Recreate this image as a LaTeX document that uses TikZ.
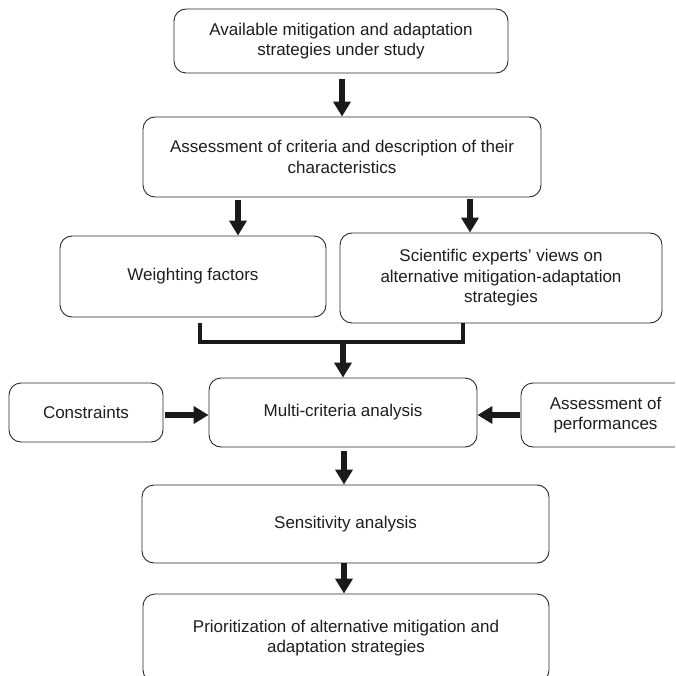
\documentclass[tikz,border=0pt]{standalone}
\usepackage{fontspec}
\setmainfont{Liberation Sans}
\usetikzlibrary{arrows.meta}
\definecolor{boxline}{HTML}{2A2A2A}
\definecolor{txt}{HTML}{1E1E1E}
\definecolor{arr}{HTML}{1A1A1A}
\tikzset{
  box/.style={draw=boxline, line width=0.9pt, rounded corners=12pt, align=center,
    inner sep=0pt, text=txt, font=\fontsize{17}{20.5}\selectfont},
  bigarrow/.style={draw=arr, line width=5.5pt, -{Triangle[width=17pt,length=15pt]}},
  bracket/.style={draw=arr, line width=3.3pt, line join=miter, line cap=butt}
}
\begin{document}
\begin{tikzpicture}[x=1pt,y=-1pt]
\useasboundingbox (0,0) rectangle (675,676);
\clip (0,0) rectangle (675,676);
\fill[white] (0,0) rectangle (675,676);

\node[box, minimum width=334pt, minimum height=64pt] (b1) at (341,41)
  {Available mitigation and adaptation\\strategies under study};
\node[box, minimum width=398pt, minimum height=80pt] (b2) at (342,157)
  {Assessment of criteria and description of their\\characteristics};
\node[box, minimum width=266pt, minimum height=81pt] (b3) at (193,276.5)
  {\raisebox{3pt}{Weighting factors}};
\node[box, minimum width=322pt, minimum height=90pt] (b4) at (501,278)
  {Scientific experts’ views on\\alternative mitigation-adaptation\\strategies};
\node[box, minimum width=268pt, minimum height=69pt] (mc) at (343,412.5)
  {Multi-criteria analysis};
\node[box, minimum width=154pt, minimum height=59pt] (con) at (86,412.5)
  {\raisebox{1pt}{Constraints}};
\node[box, minimum width=169pt, minimum height=64pt] (ass) at (605.5,415)
  {Assessment of\\performances};
\node[box, minimum width=407pt, minimum height=78pt] (sens) at (345.5,524)
  {\raisebox{2pt}{Sensitivity analysis}};
\node[box, minimum width=406pt, minimum height=88pt] (prio) at (346,638)
  {Prioritization of alternative mitigation and\\adaptation strategies};

\coordinate (j) at (343,342);

\draw[bigarrow] ([xshift=1pt,yshift=-6pt]b1.south) -- ([xshift=1pt]b1.south |- b2.north);
\draw[bigarrow] ([xshift=-104pt,yshift=-3pt]b2.south) -- ([xshift=-104pt]b2.south |- b3.north);
\draw[bigarrow] ([xshift=128pt,yshift=-2pt]b2.south) -- ([xshift=128pt]b2.south |- b4.north);
\draw[bracket] ([xshift=7pt,yshift=-6pt]b3.south) |- (j) -| ([xshift=-38pt]b4.south);
\draw[bigarrow] ([yshift=1.5pt]j) -- (j |- mc.north);
\draw[bigarrow] ([xshift=2pt,yshift=-2.5pt]con.east) -- ([yshift=-2.5pt]con.east -| mc.west);
\draw[bigarrow] ([xshift=-1pt]ass.west) -- (ass.west -| mc.east);
\draw[bigarrow] ([xshift=1pt,yshift=-4pt]mc.south) -- ([xshift=1pt]mc.south |- sens.north);
\draw[bigarrow] ([xshift=-1.5pt]sens.south) -- ([xshift=-1.5pt]sens.south |- prio.north);
\end{tikzpicture}
\end{document}
